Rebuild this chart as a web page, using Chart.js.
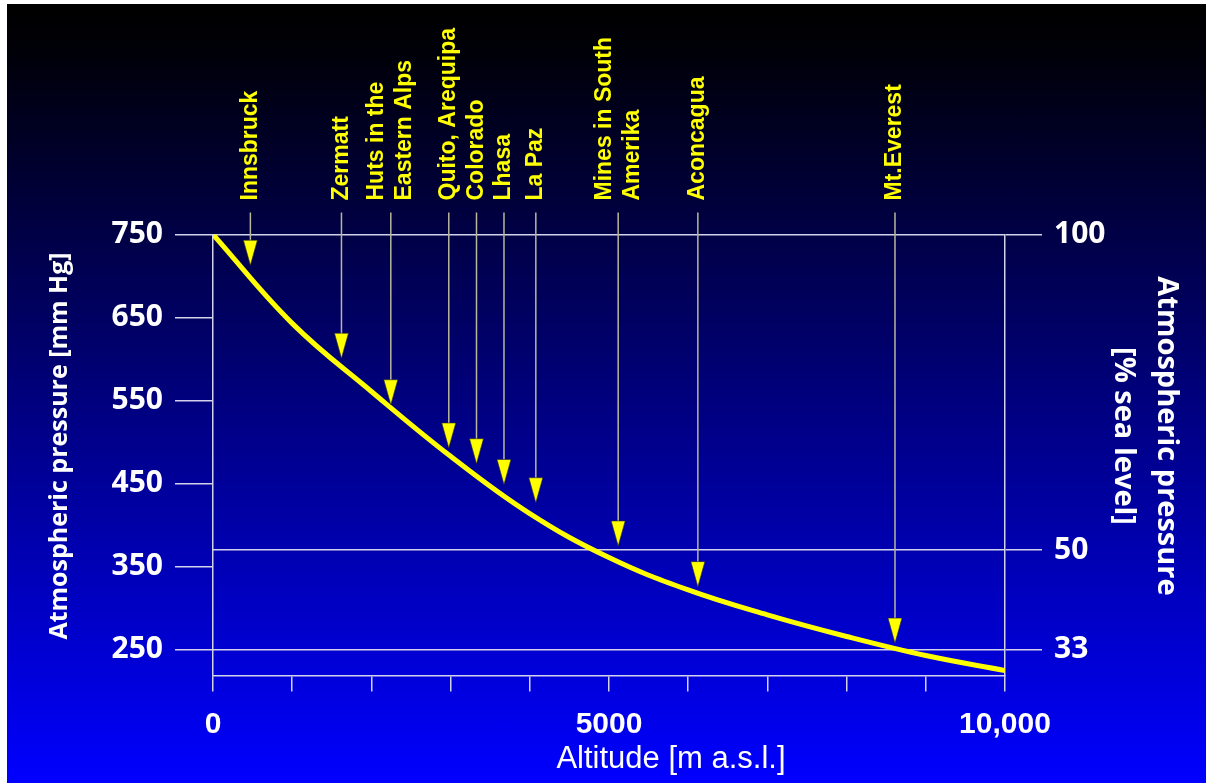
<!DOCTYPE html>
<html>
<head>
<meta charset="utf-8">
<script src="https://cdn.jsdelivr.net/npm/chart.js@4.4.1/dist/chart.umd.min.js"></script>
<style>
  html, body { margin: 0; padding: 0; background: #fff; }
  #wrap {
    position: absolute; left: 7px; top: 4px; width: 1199px; height: 779px;
    background: linear-gradient(to bottom, #000000 0%, #000008 6%, #0000ff 100%);
  }
</style>
</head>
<body>
<div id="wrap"><canvas id="pressureChart"></canvas></div>
<script>
// pressure curve, every 1000 m
const altitudes = [0, 1000, 2000, 3000, 4000, 5000, 6000, 7000, 8000, 9000, 10000];
const pressures = [750, 643, 561, 483, 414, 361, 322, 292, 266, 243, 225];

// places marked with arrows (altitude in m, pressure at the arrow tip in mm Hg)
const places = [['Innsbruck'], ['Zermatt'], ['Huts in the', 'Eastern Alps'], ['Quito, Arequipa'],
  ['Colorado'], ['Lhasa'], ['La Paz'], ['Mines in South', 'Amerika'], ['Aconcagua'], ['Mt.Everest']];
const placeAltitudes = [472, 1622, 2245, 2977, 3327, 3674, 4076, 5116, 6122, 8611];
const placePressures = [713, 601, 545, 493, 474, 449, 427, 375, 326, 258];

const leftTicks = [750, 650, 550, 450, 350, 250];
const rightTicks = [750, 370, 250];
const rightTickLabels = ['100', '50', '33'];
const xLabelTicks = [0, 5000, 10000];
const xLabelText = ['0', '5000', '10,000'];

const lineColor = '#d2d2ea';
const yellow = '#ffff00';

const overlay = {
  id: 'overlay',
  afterDraw(chart) {
    const { ctx, chartArea, scales: { x, y } } = chart;
    ctx.save();

    places.forEach((lines, i) => {
      const px = x.getPixelForValue(placeAltitudes[i]);
      const tip = y.getPixelForValue(placePressures[i]);

      ctx.strokeStyle = '#b9b79a';
      ctx.lineWidth = 1.5;
      ctx.beginPath();
      ctx.moveTo(px, chartArea.top - 22);
      ctx.lineTo(px, tip - 22);
      ctx.stroke();

      ctx.fillStyle = yellow;
      ctx.strokeStyle = 'rgba(40,40,40,0.6)';
      ctx.lineWidth = 1;
      ctx.beginPath();
      ctx.moveTo(px - 7, tip - 25);
      ctx.lineTo(px + 7, tip - 25);
      ctx.lineTo(px, tip);
      ctx.closePath();
      ctx.fill();
      ctx.stroke();

      ctx.save();
      ctx.translate(px, chartArea.top - 34);
      ctx.rotate(-Math.PI / 2);
      ctx.fillStyle = yellow;
      ctx.font = 'bold 23px "Liberation Sans"';
      ctx.textAlign = 'left';
      ctx.textBaseline = 'middle';
      lines.forEach((t, j) => ctx.fillText(t, 0, (j - (lines.length - 1) / 2) * 28));
      ctx.restore();
    });

    ctx.fillStyle = '#ffffff';
    ctx.textAlign = 'center';
    ctx.textBaseline = 'middle';

    // left axis title
    ctx.save();
    ctx.translate(53, 442);
    ctx.rotate(-Math.PI / 2);
    ctx.font = 'bold 25px "Open Sans"';
    ctx.fillText('Atmospheric pressure [mm Hg]', 0, 0);
    ctx.restore();

    // right axis title
    ctx.save();
    ctx.translate(1159, 432);
    ctx.rotate(Math.PI / 2);
    ctx.font = 'bold 29px "Open Sans"';
    ctx.fillText('Atmospheric pressure', 0, 0);
    ctx.fillText('[% sea level]', 0, 43);
    ctx.restore();

    // bottom axis title
    ctx.font = '31px "Liberation Sans"';
    ctx.fillText('Altitude [m a.s.l.]', 664, 755);

    ctx.restore();
  }
};

const ctx = document.getElementById('pressureChart').getContext('2d');

const pressureChart = new Chart(ctx, {
  type: 'line',
  data: {
    datasets: [{
      data: altitudes.map((a, i) => ({ x: a, y: pressures[i] })),
      borderColor: yellow,
      borderWidth: 5,
      pointRadius: 0,
      tension: 0.4
    }]
  },
  options: {
    responsive: true,
    maintainAspectRatio: false,
    animation: false,
    layout: { padding: { top: 230.5 } },
    plugins: { legend: { display: false }, tooltip: { enabled: false } },
    scales: {
      x: {
        type: 'linear',
        min: 0,
        max: 10000,
        afterFit: s => { s.height = 107.5; },
        border: { display: true, color: lineColor, width: 1.5 },
        grid: { drawOnChartArea: false, color: lineColor, lineWidth: 1.5, tickLength: 16 },
        ticks: {
          stepSize: 1000,
          autoSkip: false,
          maxRotation: 0,
          padding: 15,
          color: '#ffffff',
          font: { family: 'Liberation Sans', size: 30, weight: 'bold' },
          callback: v => {
            const i = xLabelTicks.indexOf(v);
            return i < 0 ? '' : xLabelText[i];
          }
        }
      },
      y: {
        position: 'left',
        min: 219,
        max: 750,
        afterFit: s => { s.width = 206; },
        afterBuildTicks: s => { s.ticks = leftTicks.map(v => ({ value: v })); },
        border: { display: true, color: lineColor, width: 1.5 },
        grid: { drawOnChartArea: false, color: lineColor, lineWidth: 1.5, tickLength: 38 },
        ticks: {
          padding: 12,
          color: '#ffffff',
          font: { family: 'Open Sans', size: 30, weight: 'bold' }
        }
      },
      y2: {
        position: 'right',
        min: 219,
        max: 750,
        afterFit: s => { s.width = 201; },
        afterBuildTicks: s => { s.ticks = rightTicks.map(v => ({ value: v })); },
        border: { display: true, color: lineColor, width: 1.5 },
        grid: { drawOnChartArea: true, color: lineColor, lineWidth: 1.5, tickLength: 37 },
        ticks: {
          padding: 12,
          color: '#ffffff',
          font: { family: 'Open Sans', size: 30, weight: 'bold' },
          callback: v => rightTickLabels[rightTicks.indexOf(v)]
        }
      }
    }
  },
  plugins: [overlay]
});
</script>
</body>
</html>
